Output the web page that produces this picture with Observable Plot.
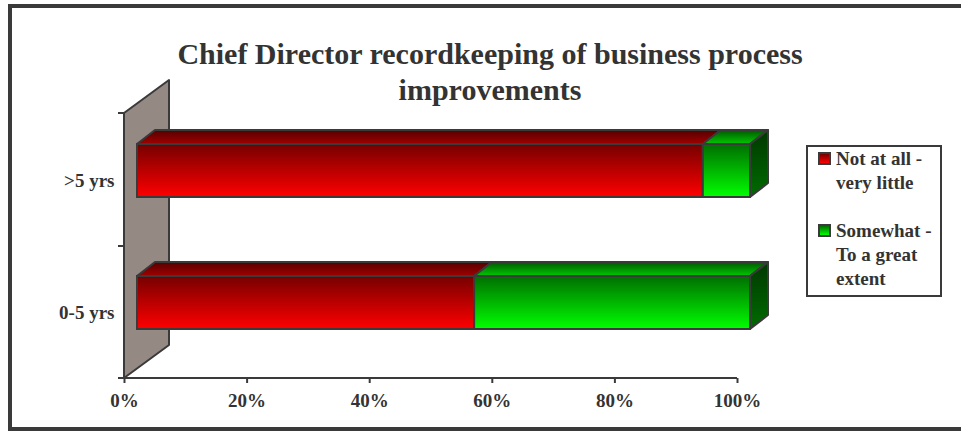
<!DOCTYPE html>
<html>
<head>
<meta charset="utf-8">
<script src="https://cdn.jsdelivr.net/npm/d3@7"></script>
<script src="https://cdn.jsdelivr.net/npm/@observablehq/plot@0.6"></script>
<style>
  body { margin: 0; background: #fff; width: 961px; height: 431px; overflow: hidden; position: relative;
         font-family: "Liberation Serif", "Times New Roman", serif; }
  #frame { position: absolute; left: 8px; top: 4px; width: 1000px; height: 427px; box-sizing: border-box;
           border: 4px solid #3a3a3a; }
  #chart { position: absolute; left: 0; top: 0; }
  #title { position: absolute; left: 90px; width: 800px; top: 36px; text-align: center; font-size: 30px;
           font-weight: bold; line-height: 36px; color: #333; }
  #legend { position: absolute; left: 806px; top: 145px; width: 136px; height: 152px; box-sizing: border-box;
            border: 2px solid #3a3a3a; background: #fff; }
  .item { position: absolute; left: 28px; font-size: 19px; font-weight: bold; line-height: 24px; color: #333; white-space: nowrap; }
  .sw { position: absolute; left: 10px; width: 13px; height: 13px; box-sizing: border-box; border: 2px solid #3a3a3a; }
</style>
</head>
<body>
<div id="frame"></div>
<div id="chart"></div>
<div id="title"></div>
<div id="legend"></div>
<script>
// ---- data ----
const categories = [">5 yrs", "0-5 yrs"];
const seriesNames = ["Not at all - very little", "Somewhat - To a great extent"];
const legendLines = [["Not at all -", "very little"], ["Somewhat -", "To a great", "extent"]];
const notAtAll = [92.3, 55];
const somewhat = [7.7, 45];
const xTicks = [0, 20, 40, 60, 80, 100];
const titleLines = ["Chief Director recordkeeping of business process", "improvements"];

// ---- styling constants ----
const STROKE = "#3a3a3a";
const frontGrad = ["url(#gRedFront)", "url(#gGreenFront)"];
const topGrad = ["url(#gRedTop)", "url(#gGreenTop)"];
const sideGrad = ["url(#gRedSide)", "url(#gGreenSide)"];
const BAR_DX = 13, INSET_TOP = 30, INSET_BOTTOM = 49;
const DEPTH_X = 18, DEPTH_Y = -14;
const WALL_X = 45, WALL_Y = -33;

// table built from arrays
const rows = [];
categories.forEach((c, i) => {
  let s = 0;
  [notAtAll[i], somewhat[i]].forEach((v, k) => {
    rows.push({cat: c, series: seriesNames[k], k, start: s, end: s + v});
    s += v;
  });
});

function defs() {
  const d = d3.create("svg:defs");
  const grads = [
    ["gRedFront", "#760000", "#ff0000"],
    ["gGreenFront", "#006e00", "#00ff00"],
    ["gRedTop", "#560000", "#a00000"],
    ["gGreenTop", "#005800", "#00c800"],
    ["gRedSide", "#400000", "#700000"],
    ["gGreenSide", "#003800", "#006c00"]
  ];
  for (const [id, c0, c1] of grads) {
    const g = d.append("linearGradient").attr("id", id).attr("x1", 0).attr("y1", 0).attr("x2", 0).attr("y2", 1);
    g.append("stop").attr("offset", "0%").attr("stop-color", c0);
    g.append("stop").attr("offset", "100%").attr("stop-color", c1);
  }
  return d.node();
}

function wall(index, scales) {
  const x = scales.x, y = scales.y;
  const [y0, y1] = y.range();
  const bw = typeof y.bandwidth === "function" ? y.bandwidth() : (y1 - y0) / categories.length;
  const x0 = x(0);
  const g = d3.create("svg:g");
  g.append("path")
    .attr("d", `M${x0},${y1}L${x0},${y0}L${x0 + WALL_X},${y0 + WALL_Y}L${x0 + WALL_X},${y1 + WALL_Y}Z`)
    .attr("fill", "#958984").attr("stroke", STROKE).attr("stroke-width", 2).attr("stroke-linejoin", "round");
  const bounds = [y0, ...categories.map(c => y(c) + bw)];
  for (const b of bounds) {
    g.append("line").attr("x1", x0 - 6).attr("x2", x0).attr("y1", b).attr("y2", b)
      .attr("stroke", STROKE).attr("stroke-width", 2);
  }
  g.append("line").attr("x1", x(0)).attr("x2", x(100)).attr("y1", y1).attr("y2", y1)
    .attr("stroke", STROKE).attr("stroke-width", 2);
  return g.node();
}

function depthFaces(index, scales) {
  const x = scales.x, y = scales.y;
  const [y0, y1] = y.range();
  const bw = typeof y.bandwidth === "function" ? y.bandwidth() : (y1 - y0) / categories.length;
  const g = d3.create("svg:g").attr("stroke", STROKE).attr("stroke-width", 2).attr("stroke-linejoin", "round");
  for (const r of rows) {
    const xa = x(r.start) + BAR_DX, xb = x(r.end) + BAR_DX;
    const yt = y(r.cat) + INSET_TOP, yb = y(r.cat) + bw - INSET_BOTTOM;
    g.append("path")
      .attr("d", `M${xa},${yt}L${xa + DEPTH_X},${yt + DEPTH_Y}L${xb + DEPTH_X},${yt + DEPTH_Y}L${xb},${yt}Z`)
      .attr("fill", topGrad[r.k]);
    g.append("path")
      .attr("d", `M${xb},${yt}L${xb + DEPTH_X},${yt + DEPTH_Y}L${xb + DEPTH_X},${yb + DEPTH_Y}L${xb},${yb}Z`)
      .attr("fill", sideGrad[r.k]);
  }
  return g.node();
}

const chart = Plot.plot({
  width: 961,
  height: 431,
  marginLeft: 124,
  marginRight: 224,
  marginTop: 113,
  marginBottom: 53,
  style: {background: "transparent", fontFamily: "'Liberation Serif', 'Times New Roman', serif", fontSize: "19px", color: "#333", overflow: "visible"},
  x: {domain: [0, 100], label: null},
  y: {domain: categories, padding: 0, label: null},
  marks: [
    defs,
    wall,
    depthFaces,
    ...[0, 1].map(k => Plot.barX(rows.filter(r => r.k === k), {
      x1: "start", x2: "end", y: "cat",
      insetTop: INSET_TOP, insetBottom: INSET_BOTTOM, dx: BAR_DX,
      fill: frontGrad[k], stroke: STROKE, strokeWidth: 2
    })),
    Plot.axisX(xTicks, {tickSize: 5, tickPadding: 10, tickFormat: d => d + "%", fontSize: 19, fontWeight: "bold",
      color: "#333", stroke: STROKE, strokeWidth: 2, label: null}),
    Plot.axisY({tickSize: 0, tickPadding: 10, fontSize: 19, fontWeight: "bold", color: "#333", label: null})
  ]
});
document.getElementById("chart").appendChild(chart);

document.getElementById("title").innerHTML = titleLines.join("<br>");

const legend = document.getElementById("legend");
const swatchBg = ["linear-gradient(#760000, #ff0000)", "linear-gradient(#006e00, #00ff00)"];
const itemTops = [0, 72];
legendLines.forEach((lines, k) => {
  const sw = document.createElement("div");
  sw.className = "sw";
  sw.style.top = (itemTops[k] + 5) + "px";
  sw.style.background = swatchBg[k];
  sw.title = seriesNames[k];
  legend.appendChild(sw);
  const it = document.createElement("div");
  it.className = "item";
  it.style.top = itemTops[k] + "px";
  it.innerHTML = lines.join("<br>");
  legend.appendChild(it);
});
</script>
</body>
</html>
